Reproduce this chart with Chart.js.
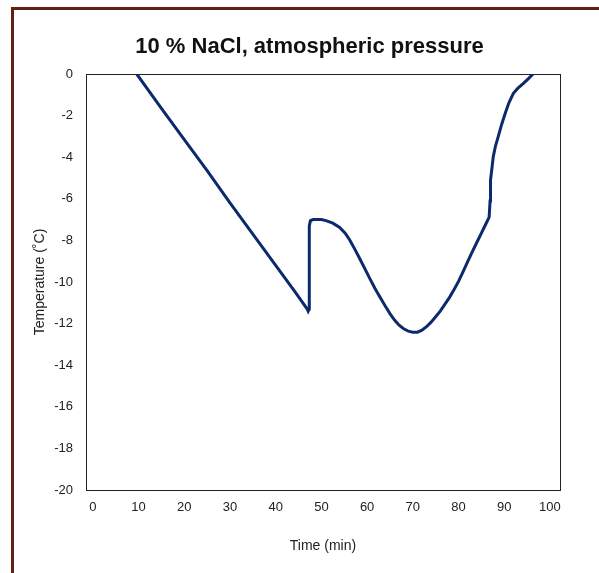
<!DOCTYPE html>
<html><head><meta charset="utf-8">
<script src="https://cdn.jsdelivr.net/npm/chart.js@4/dist/chart.umd.min.js"></script>
<style>
html,body{margin:0;padding:0;background:#fff;}
#wrap{position:relative;width:599px;height:573px;overflow:hidden;}
#frame{position:absolute;left:11px;top:7px;width:700px;height:700px;border-left:2px solid #7d1505;border-top:2px solid #7d1505;box-shadow:inset 1px 1px 0 #333;pointer-events:none;}
canvas{position:absolute;left:0;top:0;}
</style></head><body>
<div id="wrap"><canvas id="c" width="599" height="573"></canvas><div id="frame"></div></div>
<script>
const chartTitle = '10 % NaCl, atmospheric pressure';
const xTitle = 'Time (min)';
const yTitle = 'Temperature (˚C)';
const timeMin = [9.6, 15, 20, 25, 30, 35, 40, 44, 46.9, 47.1, 47.3, 47.35, 47.6, 48.2, 50, 51, 52.5, 54, 55.2, 56.2, 57.3, 58.4, 59.5, 60.6, 61.7, 62.8, 64, 65, 66, 67, 68, 69, 70, 71, 72, 73, 74, 75, 76, 77, 78, 79, 80, 81, 82, 83, 84, 85, 86, 86.7, 86.9, 87.0, 87.3, 87.6, 88.1, 88.7, 89.4, 90.2, 91, 92, 93, 94.2, 95.3, 96.3];
const temperatureC = [0, -1.65, -3.15, -4.65, -6.2, -7.7, -9.2, -10.4, -11.3, -11.4, -11.3, -7.3, -7.05, -7.0, -7.0, -7.05, -7.17, -7.38, -7.65, -7.98, -8.42, -8.88, -9.36, -9.84, -10.3, -10.72, -11.17, -11.52, -11.83, -12.08, -12.25, -12.36, -12.41, -12.41, -12.32, -12.15, -11.93, -11.67, -11.4, -11.08, -10.75, -10.37, -9.97, -9.5, -9.02, -8.55, -8.1, -7.65, -7.2, -6.88, -6.1, -5.1, -4.55, -3.97, -3.45, -3.0, -2.45, -1.9, -1.4, -0.93, -0.68, -0.45, -0.22, 0];
const xTickValues = [0, 10, 20, 30, 40, 50, 60, 70, 80, 90, 100];
const yTickValues = [0, -2, -4, -6, -8, -10, -12, -14, -16, -18, -20];

const FONT = "'Liberation Sans', Arial, sans-serif";
const points = timeMin.map((t, i) => ({x: t, y: temperatureC[i]}));

const framePlugin = {
  id: 'plotFrame',
  beforeDatasetsDraw(chart) {
    const {ctx, chartArea: a} = chart;
    ctx.save();
    ctx.strokeStyle = '#222';
    ctx.lineWidth = 1;
    ctx.strokeRect(Math.round(a.left) + 0.5, Math.round(a.top) + 0.5, Math.round(a.right - a.left), Math.round(a.bottom - a.top));
    ctx.restore();
  }
};

new Chart(document.getElementById('c'), {
  type: 'line',
  data: {
    datasets: [{
      data: points,
      borderColor: '#0b2a6b',
      borderWidth: 3,
      pointRadius: 0,
      tension: 0,
      fill: false
    }]
  },
  plugins: [framePlugin],
  options: {
    responsive: false,
    devicePixelRatio: 1,
    animation: false,
    layout: {padding: {left: 20, right: 0, top: 0, bottom: 0}},
    plugins: {
      legend: {display: false},
      tooltip: {enabled: false},
      title: {
        display: true,
        text: chartTitle,
        color: '#111',
        font: {family: FONT, size: 22, weight: 'bold', lineHeight: 1.2},
        padding: {top: 33.8, bottom: 13.8}
      }
    },
    scales: {
      x: {
        type: 'linear',
        position: 'bottom',
        min: -1.5,
        max: 102.2,
        afterBuildTicks: s => { s.ticks = xTickValues.map(v => ({value: v})); },
        afterFit: s => { s.height = 83; },
        grid: {display: false, drawTicks: false},
        border: {display: false},
        ticks: {color: '#222', font: {family: FONT, size: 13}, padding: 10, maxRotation: 0, autoSkip: false},
        title: {display: true, text: xTitle, color: '#222', font: {family: FONT, size: 14, lineHeight: 1.2}, padding: {top: 0, bottom: 18.6}}
      },
      y: {
        type: 'linear',
        position: 'left',
        min: -20,
        max: 0,
        afterBuildTicks: s => { s.ticks = yTickValues.map(v => ({value: v})); },
        afterFit: s => { s.width = 66; },
        grid: {display: false, drawTicks: false},
        border: {display: false},
        ticks: {color: '#222', font: {family: FONT, size: 13}, padding: 13, autoSkip: false},
        title: {display: true, text: yTitle, color: '#222', font: {family: FONT, size: 14, lineHeight: 1.2}, padding: {top: 11.6, bottom: 0}}
      },
      yR: {
        type: 'linear',
        position: 'right',
        display: true,
        grid: {display: false, drawTicks: false},
        border: {display: false},
        ticks: {display: false},
        afterFit: s => { s.width = 39; }
      }
    }
  }
});
</script>
</body></html>
